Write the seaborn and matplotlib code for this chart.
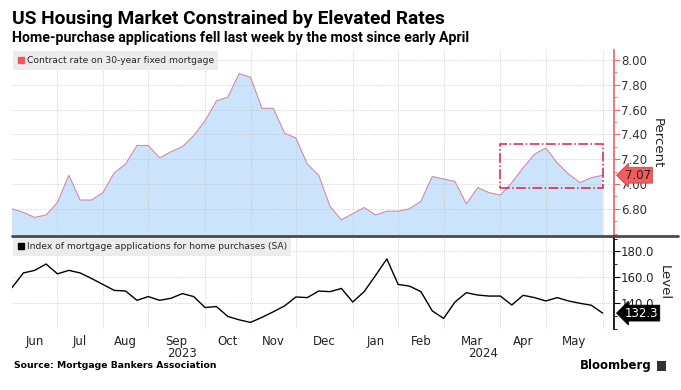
import pandas as pd
import seaborn as sns
import matplotlib.pyplot as plt
import matplotlib.dates as mdates
from matplotlib.patches import Patch, Rectangle
from matplotlib.lines import Line2D
from matplotlib.ticker import MultipleLocator

# weekly observations (week ending Friday)
dates = pd.date_range('2023-06-09', periods=53, freq='W-FRI')

rate = [6.80, 6.77, 6.73, 6.75, 6.85, 7.07, 6.87, 6.87, 6.93, 7.09,
        7.16, 7.31, 7.31, 7.21, 7.26, 7.30, 7.39, 7.51, 7.67, 7.70,
        7.89, 7.86, 7.61, 7.61, 7.41, 7.37, 7.16, 7.07, 6.82, 6.71,
        6.76, 6.81, 6.75, 6.78, 6.78, 6.80, 6.86, 7.06, 7.04, 7.02,
        6.84, 6.97, 6.93, 6.91, 7.01, 7.13, 7.24, 7.29, 7.17, 7.08,
        7.01, 7.05, 7.07]

purchase_index = [152.0, 163.4, 165.4, 170.3, 162.7, 165.4, 163.4, 159.1, 154.5, 149.9,
                  149.4, 142.2, 145.1, 142.2, 143.8, 147.4, 145.1, 136.6, 137.4, 129.7,
                  127.1, 125.1, 129.0, 133.3, 137.9, 144.8, 144.3, 149.4, 148.9, 151.4,
                  140.9, 148.9, 161.4, 174.2, 154.5, 153.2, 148.9, 134.0, 128.2, 140.9,
                  148.1, 146.3, 145.5, 145.5, 138.6, 146.1, 144.3, 141.7, 144.3, 141.7,
                  139.9, 138.4, 132.3]

rate_ticks = [6.8, 7.0, 7.2, 7.4, 7.6, 7.8, 8.0]
index_ticks = [140, 160, 180]

df = pd.DataFrame({'date': dates, 'rate': rate, 'index': purchase_index})

# highlighted window on the rate panel
box_start, box_end = dates[43], dates[52]
box_low, box_high = 6.97, 7.32

sns.set_theme(style='white')
plt.rcParams['font.family'] = ['DejaVu Sans']

fig = plt.figure(figsize=(6.81, 3.9), dpi=100)
ax1 = fig.add_axes([12/681, 1-236/390, 602/681, 186/390])
ax2 = fig.add_axes([12/681, 1-329/390, 602/681, 93/390], sharex=ax1)

grid_kw = dict(color='#c4c4c4', lw=0.6, ls=(0, (1, 1.5)))
red = '#e8696b'

# top panel: mortgage rate
ax1.fill_between(df['date'], df['rate'], 0, color='#cce3fc', lw=0, zorder=1)
sns.lineplot(data=df, x='date', y='rate', ax=ax1, color='#d48aa8', lw=0.8, zorder=3)
ax1.set_ylim(6.58, 8.08)
ax1.set_yticks(rate_ticks)
ax1.yaxis.set_minor_locator(MultipleLocator(0.1))
ax1.yaxis.set_major_formatter(lambda v, p: f'{v:.2f}')
ax1.add_patch(Rectangle((mdates.date2num(box_start), box_low),
                        mdates.date2num(box_end) - mdates.date2num(box_start),
                        box_high - box_low, fill=False, ec='#d8204a', lw=1.1,
                        ls='-.', zorder=5))

# bottom panel: purchase index
sns.lineplot(data=df, x='date', y='index', ax=ax2, color='black', lw=1.0, zorder=3)
ax2.set_ylim(120, 192)
ax2.set_yticks(index_ticks)
ax2.yaxis.set_minor_locator(MultipleLocator(10))
ax2.yaxis.set_major_formatter(lambda v, p: f'{v:.1f}')

ax1.set_xlim(dates[0], dates[-1] + pd.Timedelta(days=7))

# month gridlines at first observation of each month, labels centred between them
month_first = df.groupby(df['date'].dt.to_period('M'))['date'].min()
firsts = list(month_first.values)
centers, names = [], []
for i in range(len(firsts) - 1):
    centers.append(firsts[i] + (firsts[i + 1] - firsts[i]) / 2)
    names.append(pd.Timestamp(firsts[i]).strftime('%b'))

for ax in (ax1, ax2):
    for d in firsts[1:]:
        ax.axvline(d, **grid_kw, zorder=2)
    ax.yaxis.tick_right()
    ax.yaxis.set_label_position('right')
    for s in ('top', 'left', 'bottom'):
        ax.spines[s].set_visible(False)
    ax.set_xlabel('')
    for t in ax.get_yticks():
        ax.axhline(t, **grid_kw, zorder=2)

ax1.spines['right'].set_color(red)
ax1.tick_params(axis='y', which='both', colors=red, labelcolor='#333333', labelsize=8.5, pad=1)
ax1.tick_params(axis='y', which='major', length=4, width=0.8)
ax1.tick_params(axis='y', which='minor', length=2, width=0.6)
ax1.tick_params(axis='x', which='both', length=0, labelbottom=False)
ax1.set_ylabel('Percent', rotation=270, fontsize=9.5, color='#222222', labelpad=12)

ax2.spines['right'].set_color('black')
ax2.tick_params(axis='y', which='both', colors='black', labelcolor='#222222', labelsize=8.5, pad=1)
ax2.tick_params(axis='y', which='major', length=4, width=0.8)
ax2.tick_params(axis='y', which='minor', length=2, width=0.6)
ax2.set_ylabel('Level', rotation=270, fontsize=9.5, color='#222222', labelpad=12)
ax2.set_xticks(centers)
ax2.set_xticklabels(names)
ax2.tick_params(axis='x', length=0, labelsize=8.5, labelcolor='#222222', pad=4)

# year labels centred on each year's span
xl = ax2.get_xlim()
jan = mdates.date2num(month_first[pd.Period('2024-01', 'M')])
for x, yr in [((xl[0] + jan) / 2, '2023'), ((jan + xl[1]) / 2, '2024')]:
    ax2.text(x, -0.26, yr, transform=ax2.get_xaxis_transform(), ha='center',
             va='center', fontsize=8.5, color='#222222')

# legends
leg_kw = dict(loc='upper left', bbox_to_anchor=(0, 1), borderaxespad=0.15,
              fontsize=6.6, handlelength=0.7, handleheight=0.7, handletextpad=0.25,
              frameon=True, fancybox=False, framealpha=1, facecolor='#ececec',
              edgecolor='none', borderpad=0.5)
ax1.legend(handles=[Patch(color='#f05a5a')], labels=['Contract rate on 30-year fixed mortgage'], **leg_kw)
ax2.legend(handles=[Patch(color='black')], labels=['Index of mortgage applications for home purchases (SA)'], **leg_kw)

# last-value tags
ax1.annotate(f'{rate[-1]:.2f}', xy=(1.018, rate[-1]), xycoords=('axes fraction', 'data'),
             ha='left', va='center', fontsize=8.5, color='#222222', zorder=10,
             bbox=dict(boxstyle='larrow,pad=0.12', fc='#f25c5c', ec='#c84848', lw=0.6))
ax2.annotate(f'{purchase_index[-1]:.1f}', xy=(1.018, purchase_index[-1]), xycoords=('axes fraction', 'data'),
             ha='left', va='center', fontsize=8.5, color='white', zorder=10,
             bbox=dict(boxstyle='larrow,pad=0.12', fc='black', ec='black', lw=0.6))

# separator between panels
fig.add_artist(Line2D([12/681, 678/681], [1-236/390]*2, transform=fig.transFigure,
                      color='#4a4a4a', lw=2))

# titles and footer
fig.text(12/681, 1-19/390, 'US Housing Market Constrained by Elevated Rates',
         fontsize=13.8, fontweight='bold', family='Roboto', va='center', ha='left', color='black')
fig.text(12/681, 1-38/390, 'Home-purchase applications fell last week by the most since early April',
         fontsize=10.2, fontweight='bold', family='Roboto', va='center', ha='left', color='black')
fig.text(14/681, 1-366/390, 'Source: Mortgage Bankers Association',
         fontsize=6.7, fontweight='bold', va='center', ha='left', color='black')
fig.text(652/681, 1-366/390, 'Bloomberg', fontsize=8.5, fontweight='bold',
         va='center', ha='right', color='black')
fig.add_artist(Rectangle((657/681, 1-371/390), 9/681, 10/390, transform=fig.transFigure,
                         fc='#333333', ec='none'))

fig.savefig('out.png', dpi=100)
